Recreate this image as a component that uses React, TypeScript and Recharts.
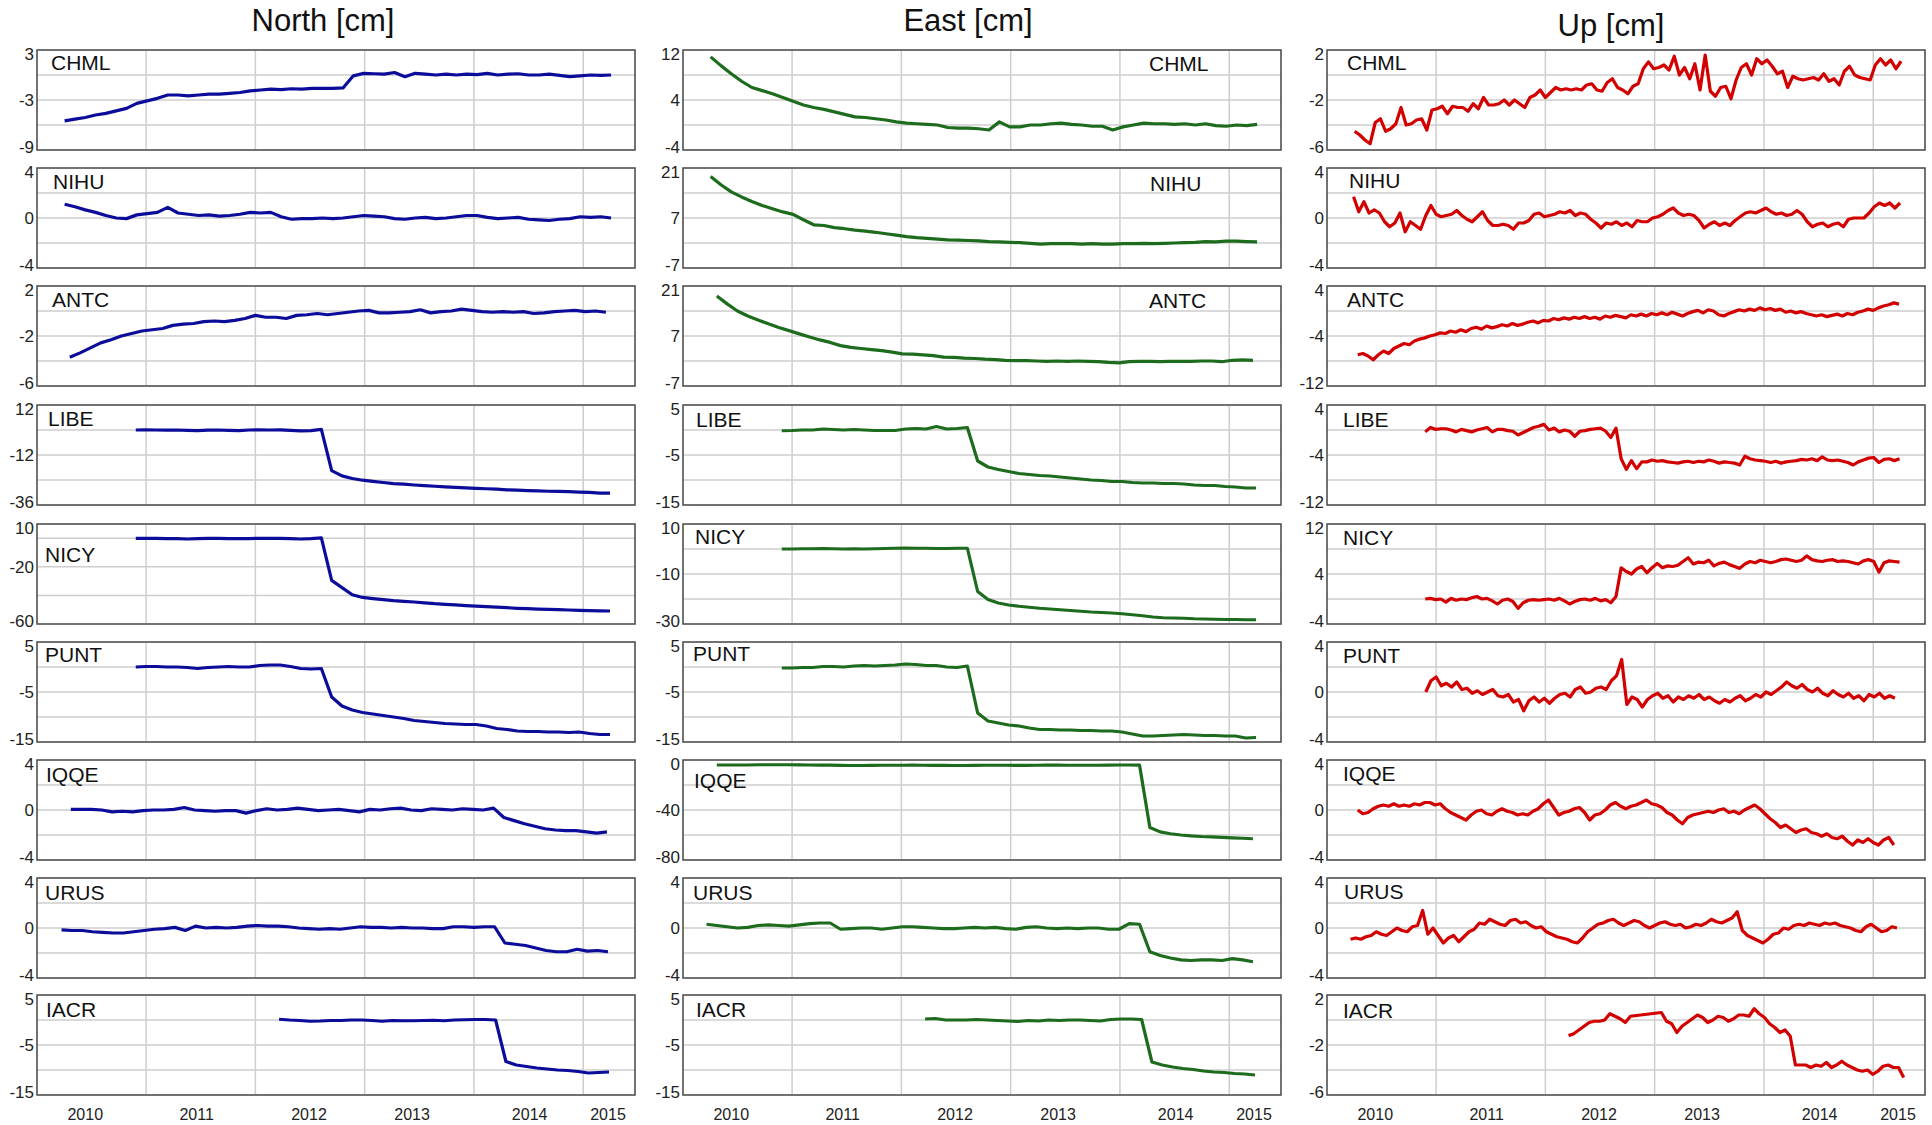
import React from 'react';
import { LineChart, Line, XAxis, YAxis, CartesianGrid, ReferenceArea } from 'recharts';

// ---------- categories / labels ----------
const STATIONS = ['CHML', 'NIHU', 'ANTC', 'LIBE', 'NICY', 'PUNT', 'IQQE', 'URUS', 'IACR'];
const COMPONENTS = ['North [cm]', 'East [cm]', 'Up [cm]'];
const X_DOMAIN: [number, number] = [2009.462, 2015.262];
const GRID_YEARS = [2010.52, 2011.58, 2012.64, 2013.7, 2014.76];
const YEAR_LABELS = ['2010', '2011', '2012', '2013', '2014', '2015'];
const YEAR_AT = [2009.93, 2011.01, 2012.1, 2013.1, 2014.24, 2015.0];

// ---------- North series (step 0.1 yr) ----------
const N_CHML = [-5.5,-5.3,-5.1,-4.8,-4.6,-4.3,-4.0,-3.4,-3.1,-2.8,-2.4,-2.4,-2.5,-2.4,-2.3,-2.3,-2.2,-2.1,-1.9,-1.8,-1.7,-1.75,-1.65,-1.7,-1.6,-1.6,-1.6,-1.55,-0.1,0.2,0.15,0.1,0.3,-0.2,0.2,0.1,0.0,0.1,0.0,0.1,0.05,0.2,0.0,0.1,0.15,0.0,0.0,0.1,-0.05,-0.2,-0.1,0.0,-0.05,0.0];
const N_NIHU = [1.1,0.9,0.65,0.45,0.2,0.0,-0.05,0.25,0.35,0.45,0.85,0.4,0.3,0.2,0.25,0.15,0.2,0.3,0.45,0.4,0.45,0.1,-0.1,-0.05,-0.05,0.0,-0.05,0.0,0.1,0.2,0.15,0.1,-0.05,-0.1,0.0,0.05,-0.05,0.0,0.1,0.2,0.2,0.05,-0.05,0.0,0.05,-0.1,-0.15,-0.2,-0.1,-0.05,0.1,0.05,0.1,0.0];
const N_ANTC = [-3.7,-3.35,-2.95,-2.55,-2.3,-2.0,-1.8,-1.6,-1.5,-1.4,-1.15,-1.05,-1.0,-0.85,-0.8,-0.85,-0.75,-0.6,-0.35,-0.5,-0.5,-0.6,-0.35,-0.3,-0.2,-0.3,-0.2,-0.1,0.0,0.05,-0.15,-0.15,-0.1,-0.05,0.1,-0.15,-0.05,0.0,0.15,0.05,-0.05,-0.1,-0.05,-0.1,-0.05,-0.2,-0.15,-0.05,0.0,0.05,-0.05,0.0,-0.1];
const N_LIBE = [0,0.1,0,-0.1,0,-0.2,-0.3,-0.1,0,-0.2,-0.3,0,0.1,0,0.1,-0.2,-0.4,-0.3,0.3,-19.5,-22,-23.3,-24.1,-24.7,-25.2,-25.7,-26.0,-26.4,-26.7,-27.0,-27.3,-27.5,-27.8,-28.0,-28.2,-28.4,-28.7,-28.9,-29.1,-29.2,-29.4,-29.5,-29.6,-29.8,-29.9,-30.3,-30.3];
const N_NICY = [0,0,0,-0.2,-0.3,-0.5,-0.3,0,0,-0.2,-0.3,-0.2,0,0,0,-0.3,-0.5,-0.2,0.3,-29.5,-34.5,-39.5,-41.4,-42.2,-42.9,-43.6,-44.1,-44.6,-45.2,-45.8,-46.2,-46.6,-47.1,-47.5,-47.9,-48.2,-48.6,-49.0,-49.3,-49.6,-49.8,-50.0,-50.2,-50.4,-50.6,-50.8,-50.9];
const N_PUNT = [0.0,0.1,0.1,0.0,0.0,-0.1,-0.3,-0.1,0.0,0.1,0.0,0.0,0.3,0.4,0.4,0.1,-0.3,-0.4,-0.3,-6.0,-7.8,-8.6,-9.1,-9.4,-9.7,-10.0,-10.3,-10.7,-10.9,-11.1,-11.3,-11.4,-11.5,-11.5,-11.8,-12.3,-12.5,-12.8,-12.9,-12.9,-13.0,-13.0,-13.1,-13.0,-13.3,-13.5,-13.5];
const N_IQQE = [0.05,0.05,0.05,0.0,-0.15,-0.1,-0.15,-0.05,0.0,0.0,0.05,0.2,0.0,-0.05,-0.1,-0.05,-0.05,-0.25,-0.05,0.1,0.0,0.05,0.15,0.05,-0.05,0.0,0.05,-0.05,-0.15,0.05,0.0,0.1,0.15,0.0,-0.05,0.1,0.05,0.0,0.1,0.05,0.0,0.15,-0.6,-0.85,-1.1,-1.3,-1.5,-1.6,-1.65,-1.65,-1.75,-1.85,-1.75];
const N_URUS = [-0.15,-0.2,-0.2,-0.3,-0.35,-0.4,-0.4,-0.3,-0.2,-0.1,-0.05,0.05,-0.2,0.15,0.0,0.05,0.0,0.05,0.15,0.2,0.15,0.15,0.1,0.0,-0.05,-0.1,-0.05,-0.1,0.0,0.1,0.05,0.05,0.0,0.05,0.0,0.0,-0.05,-0.05,0.1,0.1,0.05,0.1,0.1,-1.2,-1.3,-1.4,-1.6,-1.8,-1.9,-1.9,-1.7,-1.85,-1.8,-1.9];
const N_IACR = [0.15,0.0,-0.1,-0.25,-0.2,-0.1,-0.1,0.0,0.0,-0.1,-0.25,-0.1,-0.15,-0.15,-0.1,-0.05,-0.15,0.0,0.05,0.1,0.1,0.0,-8.3,-9.0,-9.3,-9.6,-9.8,-10.0,-10.1,-10.3,-10.6,-10.5,-10.4];

// ---------- East series (step 0.1 yr) ----------
const E_CHML = [10.9,9.5,8.2,7.0,6.0,5.5,5.0,4.4,3.8,3.2,2.8,2.5,2.1,1.7,1.3,1.2,1.0,0.8,0.5,0.3,0.2,0.1,0.0,-0.4,-0.5,-0.5,-0.6,-0.8,0.5,-0.3,-0.3,0.0,0.0,0.2,0.3,0.1,0.0,-0.2,-0.2,-0.8,-0.3,0.0,0.3,0.2,0.2,0.1,0.2,0.0,0.2,-0.1,-0.2,0.0,-0.1,0.1];
const E_NIHU = [18.6,16.3,14.3,12.9,11.6,10.5,9.6,8.7,8.0,6.5,5.1,4.9,4.3,4.0,3.6,3.3,3.0,2.6,2.2,1.8,1.5,1.3,1.1,0.9,0.8,0.7,0.6,0.4,0.3,0.2,0.1,-0.1,-0.3,-0.2,-0.2,-0.2,-0.3,-0.2,-0.3,-0.3,-0.2,-0.2,-0.1,-0.2,-0.1,0.0,0.1,0.2,0.4,0.3,0.5,0.5,0.4,0.3];
const E_ANTC = [18.2,16.0,14.0,12.6,11.5,10.4,9.4,8.5,7.6,6.7,5.9,5.2,4.3,3.8,3.5,3.2,2.9,2.5,2.0,1.9,1.7,1.5,1.1,1.0,0.8,0.7,0.5,0.4,0.2,0.1,0.1,0.0,-0.1,0.0,-0.1,0.0,-0.1,-0.2,-0.4,-0.5,-0.2,-0.1,-0.1,-0.2,-0.1,-0.1,-0.1,0.0,0.0,-0.2,0.2,0.3,0.2];
const E_LIBE = [-0.15,-0.1,0.0,0.0,0.2,0.1,0.0,0.1,0.0,-0.1,-0.1,-0.1,0.2,0.3,0.2,0.7,0.2,0.3,0.5,-6.2,-7.4,-7.9,-8.3,-8.7,-8.9,-9.1,-9.2,-9.4,-9.6,-9.8,-10.0,-10.1,-10.3,-10.3,-10.5,-10.6,-10.6,-10.7,-10.7,-10.8,-11.0,-11.1,-11.1,-11.3,-11.4,-11.6,-11.6];
const E_NICY = [0.0,0.0,0.1,0.1,0.2,0.1,0.0,0.1,0.0,0.1,0.2,0.3,0.4,0.3,0.3,0.2,0.2,0.3,0.3,-17.0,-20.2,-21.6,-22.4,-22.9,-23.3,-23.7,-24.0,-24.3,-24.6,-24.9,-25.2,-25.4,-25.6,-25.9,-26.3,-26.7,-27.2,-27.5,-27.6,-27.7,-27.9,-28.0,-28.1,-28.2,-28.2,-28.3,-28.3];
const E_PUNT = [-0.2,-0.2,-0.1,-0.1,0.1,0.1,0.0,0.2,0.3,0.2,0.3,0.4,0.6,0.5,0.3,0.3,0.0,-0.1,0.2,-9.2,-10.8,-11.2,-11.6,-11.8,-12.2,-12.5,-12.5,-12.6,-12.6,-12.7,-12.7,-12.8,-12.8,-13.0,-13.4,-13.8,-13.8,-13.7,-13.6,-13.5,-13.6,-13.7,-13.7,-13.8,-13.8,-14.2,-14.1];
const E_IQQE = [-4.0,-4.0,-4.0,-4.0,-3.8,-3.8,-3.8,-3.8,-3.9,-4.0,-4.1,-4.1,-4.3,-4.4,-4.4,-4.3,-4.2,-4.2,-4.2,-4.1,-4.2,-4.3,-4.3,-4.4,-4.4,-4.3,-4.2,-4.2,-4.2,-4.3,-4.3,-4.2,-4.1,-4.1,-4.2,-4.2,-4.2,-4.2,-4.1,-4.0,-4.0,-4.1,-54.0,-57.5,-59.0,-60.0,-60.7,-61.2,-61.5,-61.9,-62.3,-62.6,-63.0];
const E_URUS = [0.3,0.2,0.1,0.0,0.05,0.2,0.25,0.2,0.15,0.25,0.35,0.4,0.4,-0.1,-0.05,0.0,0.0,-0.1,0.0,0.1,0.1,0.05,0.0,-0.05,-0.05,0.0,0.05,0.0,0.05,-0.05,-0.1,0.05,0.1,0.0,-0.05,0.0,-0.05,0.0,0.0,-0.1,-0.1,0.35,0.3,-1.9,-2.2,-2.4,-2.55,-2.6,-2.55,-2.55,-2.6,-2.45,-2.55,-2.7];
const E_IACR = [0.2,0.3,0.0,0.0,0.0,0.1,0.0,-0.1,-0.2,-0.3,-0.1,-0.2,0.0,-0.1,0.0,0.0,-0.1,-0.2,0.1,0.2,0.2,0.1,-8.4,-9.0,-9.4,-9.7,-9.9,-10.2,-10.4,-10.5,-10.7,-10.8,-11.0];

// ---------- Up series (step 0.05 yr) ----------
const U_CHML = [-4.5,-4.8,-5.2,-5.5,-3.8,-3.5,-4.5,-4.3,-3.9,-2.6,-4.0,-3.9,-3.6,-3.5,-4.4,-2.8,-2.7,-2.5,-3.1,-2.5,-2.6,-2.6,-2.9,-2.3,-2.7,-1.8,-2.4,-2.4,-2.3,-2.0,-2.4,-2.0,-2.3,-2.6,-1.8,-1.6,-1.2,-1.8,-1.4,-1.0,-1.2,-1.1,-1.2,-1.1,-1.2,-0.8,-0.7,-1.2,-1.3,-0.6,-0.3,-1.0,-1.2,-1.5,-0.9,-0.7,0.5,1.05,0.5,0.6,0.8,0.4,1.5,0.0,0.6,-0.3,0.9,-1.2,1.6,-1.3,-1.7,-1.0,-0.9,-1.9,-0.4,0.6,0.9,0.0,1.3,0.9,1.2,0.7,0.1,0.3,-1.0,-0.1,-0.3,-0.4,-0.3,-0.2,-0.4,0.1,-0.5,-0.3,-0.8,0.3,0.7,0.0,-0.2,-0.3,-0.4,0.8,1.3,0.8,1.2,0.5,1.1];
const U_NIHU = [1.7,0.5,1.3,0.4,0.65,0.4,-0.3,-0.7,-0.4,0.4,-1.1,-0.3,-0.6,-0.9,0.2,1.0,0.3,0.1,0.2,0.3,0.6,0.2,-0.1,-0.3,0.1,0.5,-0.2,-0.6,-0.6,-0.5,-0.6,-0.9,-0.4,-0.4,-0.2,0.3,0.4,0.1,0.2,0.3,0.5,0.4,0.6,0.2,0.4,0.3,-0.1,-0.4,-0.8,-0.4,-0.5,-0.3,-0.6,-0.4,-0.7,-0.2,-0.3,-0.3,0.0,0.1,0.3,0.6,0.8,0.4,0.2,0.3,0.2,-0.2,-0.8,-0.5,-0.3,-0.6,-0.4,-0.6,-0.2,0.1,0.4,0.5,0.4,0.6,0.8,0.5,0.3,0.4,0.2,0.3,0.6,0.3,-0.3,-0.7,-0.5,-0.4,-0.7,-0.5,-0.4,-0.7,-0.1,0.0,0.0,0.0,0.4,0.9,1.2,1.0,1.2,0.8,1.2];
const U_ANTC = [-7.0,-6.8,-7.2,-7.8,-7.0,-6.4,-6.8,-6.0,-5.6,-5.2,-5.4,-4.8,-4.5,-4.3,-4.0,-3.8,-3.5,-3.6,-3.2,-3.4,-3.0,-3.3,-2.8,-2.6,-2.9,-2.4,-2.7,-2.5,-2.2,-2.4,-2.0,-2.3,-2.1,-1.8,-1.6,-1.9,-1.5,-1.6,-1.2,-1.4,-1.1,-1.3,-1.0,-1.2,-0.9,-1.2,-1.0,-1.3,-0.8,-1.0,-0.7,-0.9,-1.1,-0.6,-0.8,-0.5,-0.8,-0.4,-0.6,-0.3,-0.6,-0.2,-0.5,-0.8,-0.4,-0.1,0.1,-0.3,0.2,0.0,-0.6,-0.8,-0.4,-0.1,0.2,0.0,0.3,0.1,0.5,0.2,0.4,0.1,0.3,-0.2,0.0,-0.3,-0.1,-0.4,-0.6,-0.8,-0.6,-0.9,-0.7,-0.5,-0.8,-0.4,-0.6,-0.2,0.0,0.3,0.1,0.5,0.8,1.0,1.3,1.1];
const U_LIBE = [-0.3,0.4,0.1,0.2,0.2,0.0,-0.3,0.1,-0.1,-0.3,0.0,0.2,0.4,-0.3,0.1,0.1,-0.1,-0.2,-0.8,-0.4,0.0,0.4,0.6,0.9,0.0,0.3,-0.3,0.0,-0.2,-1.0,-0.2,-0.1,0.1,0.2,0.3,-0.2,-1.2,0.3,-4.6,-6.3,-4.9,-6.2,-5.1,-5.1,-4.8,-5.0,-4.9,-5.1,-5.2,-5.3,-5.1,-5.0,-5.2,-5.0,-5.1,-4.8,-5.0,-5.3,-5.1,-5.2,-5.3,-5.6,-4.2,-4.6,-4.8,-4.9,-5.0,-5.2,-5.0,-5.3,-5.1,-5.0,-4.9,-4.7,-4.8,-4.6,-4.9,-4.3,-4.8,-4.9,-4.8,-5.0,-5.2,-5.6,-5.1,-4.8,-4.5,-4.4,-5.2,-4.7,-4.6,-4.9,-4.6];
const U_NICY = [0.0,0.1,-0.1,0.0,-0.5,0.1,-0.2,0.0,-0.1,0.2,0.4,0.0,0.1,-0.3,-0.8,-0.2,0.0,-0.4,-1.5,-0.6,-0.2,-0.1,-0.2,-0.1,0.0,-0.2,0.1,-0.3,-0.8,-0.4,-0.1,0.0,-0.2,0.1,-0.3,-0.1,-0.6,0.4,5.0,4.4,4.0,4.8,5.2,4.2,5.0,5.7,5.0,5.3,5.2,5.4,6.0,6.6,5.6,5.9,5.8,6.2,5.3,5.7,5.9,5.5,5.2,4.9,5.6,6.0,5.8,6.2,6.0,5.8,6.0,6.3,6.4,6.2,6.0,6.2,6.9,6.3,6.1,6.0,6.2,6.3,6.0,6.1,6.0,5.8,5.6,6.1,6.3,6.0,4.3,5.8,6.1,6.0,5.9];
const U_PUNT = [0.0,0.9,1.2,0.5,0.7,0.4,0.8,0.2,0.3,-0.1,0.1,-0.2,0.0,0.2,-0.3,-0.4,-0.2,-0.8,-0.6,-1.5,-0.7,-0.4,-0.8,-0.5,-0.9,-0.5,-0.2,-0.1,-0.4,0.2,0.4,-0.1,0.0,0.3,0.4,0.2,0.9,1.3,2.6,-1.0,-0.4,-0.6,-1.2,-0.6,-0.3,-0.1,-0.5,-0.3,-0.8,-0.4,-0.6,-0.3,-0.5,-0.2,-0.6,-0.4,-0.7,-0.9,-0.6,-0.8,-0.5,-0.3,-0.7,-0.5,-0.2,-0.4,0.0,-0.2,0.1,0.4,0.8,0.5,0.3,0.6,0.2,0.0,0.3,-0.1,-0.3,0.1,-0.2,-0.4,-0.1,-0.5,-0.3,-0.7,-0.2,-0.4,-0.1,-0.5,-0.3,-0.5];
const U_IQQE = [0.0,-0.3,-0.2,0.1,0.3,0.4,0.3,0.5,0.3,0.4,0.3,0.5,0.4,0.6,0.6,0.4,0.5,0.1,-0.2,-0.4,-0.6,-0.8,-0.4,-0.1,0.0,-0.3,-0.4,-0.1,0.1,-0.1,-0.2,-0.4,-0.3,-0.4,-0.1,0.1,0.5,0.8,0.2,-0.4,-0.2,-0.1,0.1,0.2,-0.2,-0.8,-0.4,-0.3,0.0,0.4,0.6,0.3,0.1,0.3,0.4,0.6,0.8,0.5,0.4,0.2,-0.2,-0.4,-0.8,-1.1,-0.6,-0.4,-0.3,-0.2,-0.1,-0.2,0.0,0.1,-0.2,-0.1,-0.3,0.0,0.2,0.4,0.1,-0.3,-0.7,-1.0,-1.4,-1.2,-1.5,-1.8,-1.6,-1.5,-1.8,-1.9,-2.1,-1.9,-2.2,-2.3,-2.1,-2.5,-2.8,-2.4,-2.6,-2.3,-2.6,-2.8,-2.4,-2.2,-2.8];
const U_URUS = [-0.9,-0.8,-0.9,-0.7,-0.6,-0.3,-0.5,-0.6,-0.3,0.0,-0.2,-0.3,0.1,0.2,1.4,-0.5,0.0,-0.6,-1.2,-0.8,-0.6,-1.1,-0.7,-0.3,-0.1,0.4,0.3,0.7,0.5,0.3,0.2,0.6,0.7,0.4,0.5,0.2,0.0,0.1,-0.3,-0.5,-0.7,-0.8,-0.9,-1.1,-1.2,-0.8,-0.3,0.0,0.3,0.4,0.6,0.7,0.4,0.2,0.4,0.6,0.5,0.2,0.0,0.2,0.4,0.5,0.3,0.2,0.3,0.0,0.1,0.3,0.2,0.4,0.7,0.5,0.4,0.6,0.8,1.3,-0.2,-0.6,-0.8,-1.0,-1.2,-0.9,-0.5,-0.4,0.0,-0.1,0.2,0.3,0.2,0.4,0.3,0.2,0.4,0.3,0.4,0.2,0.1,0.0,-0.2,-0.3,0.1,0.3,0.0,-0.3,-0.2,0.1,0.0];
const U_IACR = [-1.25,-1.1,-0.8,-0.5,-0.2,-0.1,-0.1,0.0,0.5,0.3,0.1,-0.2,0.3,null,null,null,null,null,0.6,-0.1,-0.3,-1.0,-0.5,-0.2,0.1,0.4,0.2,-0.2,0.0,0.3,0.2,-0.1,0.1,0.4,0.4,0.3,0.9,0.5,0.2,-0.3,-0.6,-1.0,-0.8,-1.3,-3.6,-3.6,-3.6,-3.8,-3.6,-3.7,-3.4,-3.8,-3.6,-3.3,-3.6,-3.8,-4.0,-4.1,-4.0,-4.35,-4.1,-3.7,-3.6,-3.8,-3.8,-4.6];

const NORTH = [N_CHML, N_NIHU, N_ANTC, N_LIBE, N_NICY, N_PUNT, N_IQQE, N_URUS, N_IACR];
const EAST = [E_CHML, E_NIHU, E_ANTC, E_LIBE, E_NICY, E_PUNT, E_IQQE, E_URUS, E_IACR];
const UP = [U_CHML, U_NIHU, U_ANTC, U_LIBE, U_NICY, U_PUNT, U_IQQE, U_URUS, U_IACR];

const NORTH_START = [2009.73, 2009.73, 2009.78, 2010.42, 2010.42, 2010.42, 2009.79, 2009.70, 2011.81];
const EAST_START = [2009.73, 2009.73, 2009.79, 2010.42, 2010.42, 2010.42, 2009.79, 2009.69, 2011.81];
const UP_START = [2009.73, 2009.72, 2009.76, 2010.415, 2010.415, 2010.42, 2009.76, 2009.69, 2011.805];
const STEPS = [0.1, 0.1, 0.05];

// ---------- y ticks (grid) and labelled ticks ----------
const N_TICKS = [[3,0,-3,-6,-9],[4,2,0,-2,-4],[2,0,-2,-4,-6],[12,0,-12,-24,-36],[10,0,-20,-40,-60],[5,0,-5,-10,-15],[4,2,0,-2,-4],[4,2,0,-2,-4],[5,0,-5,-10,-15]];
const N_LABELS = [[3,-3,-9],[4,0,-4],[2,-2,-6],[12,-12,-36],[10,-20,-60],[5,-5,-15],[4,0,-4],[4,0,-4],[5,-5,-15]];
const E_TICKS = [[12,8,4,0,-4],[21,14,7,0,-7],[21,14,7,0,-7],[5,0,-5,-10,-15],[10,0,-10,-20,-30],[5,0,-5,-10,-15],[0,-20,-40,-60,-80],[4,2,0,-2,-4],[5,0,-5,-10,-15]];
const E_LABELS = [[12,4,-4],[21,7,-7],[21,7,-7],[5,-5,-15],[10,-10,-30],[5,-5,-15],[0,-40,-80],[4,0,-4],[5,-5,-15]];
const U_TICKS = [[2,0,-2,-4,-6],[4,2,0,-2,-4],[4,0,-4,-8,-12],[4,0,-4,-8,-12],[12,8,4,0,-4],[4,2,0,-2,-4],[4,2,0,-2,-4],[4,2,0,-2,-4],[2,0,-2,-4,-6]];
const U_LABELS = [[2,-2,-6],[4,0,-4],[4,-4,-12],[4,-4,-12],[12,4,-4],[4,0,-4],[4,0,-4],[4,0,-4],[2,-2,-6]];

// ---------- layout / style ----------
const FONT = '"Liberation Sans", Arial, Helvetica, sans-serif';
const COLORS = ['#0c0c9a', '#1d6b1d', '#d20000'];
const PANEL_W = 598;
const PANEL_H = 100;
const COL_LEFT = [37, 683, 1327];
const ROW_TOP = [50, 168, 286, 405, 524, 642, 760, 878, 995];
const AXIS_W = 50;
const PAD = 8;
const XLAB_H = 32;
const TITLE_CX = [323, 968, 1611];
const TITLE_TOP = [5, 5, 10];
const LABEL_DX = [[14,16,15,11,8,8,9,8,9],[466,467,466,13,12,10,11,10,13],[20,22,20,16,16,16,16,17,16]];
const LABEL_CAP = [[5,6,6,6,23,5,7,7,7],[6,8,7,7,5,4,13,7,7],[5,5,6,7,6,6,6,6,8]];

type Row = { t: number; v: number | null };
const toRows = (vals: (number | null)[], start: number, step: number): Row[] =>
  vals.map((v, i) => ({ t: start + i * step, v }));

function YTick(props: any) {
  const { x, y, payload, labels, min, max } = props;
  const val = payload.value;
  if (!labels.includes(val)) return <g />;
  let dy = 6;
  if (val === max) dy += 4;
  if (val === min) dy -= 3;
  return (
    <text x={x} y={y + dy} textAnchor="end" fontSize={17} fill="#222" fontFamily={FONT}>
      {String(val)}
    </text>
  );
}

function YearTick(props: any) {
  const { x, y, payload } = props;
  const idx = YEAR_AT.indexOf(payload.value);
  return (
    <text x={x} y={y + 24.5} textAnchor="middle" fontSize={16} fill="#222" fontFamily={FONT}>
      {idx >= 0 ? YEAR_LABELS[idx] : ''}
    </text>
  );
}

const EmptyTick = () => <g />;

function Panel(p: { data: Row[]; color: string; ticks: number[]; labels: number[]; left: number; top: number; bottom: boolean }) {
  const min = Math.min(...p.ticks);
  const max = Math.max(...p.ticks);
  return (
    <div style={{ position: 'absolute', left: p.left - AXIS_W, top: p.top - PAD }}>
      <LineChart
        width={AXIS_W + PANEL_W + PAD}
        height={PANEL_H + 2 * PAD + (p.bottom ? XLAB_H : 0)}
        data={p.data}
        margin={{ top: PAD, right: PAD, bottom: PAD, left: 0 }}
      >
        <CartesianGrid stroke="#cecece" strokeWidth={1.5} verticalValues={GRID_YEARS} horizontalValues={p.ticks} />
        <XAxis dataKey="t" type="number" domain={X_DOMAIN} ticks={YEAR_AT} allowDataOverflow
          tickLine={false} axisLine={false} tickSize={0} tickMargin={0} interval={0}
          height={p.bottom ? XLAB_H : 0}
          tick={p.bottom ? <YearTick /> : <EmptyTick />} />
        <YAxis type="number" domain={[min, max]} ticks={p.ticks} allowDataOverflow width={AXIS_W}
          tickLine={false} axisLine={false} tickSize={0} tickMargin={3} interval={0}
          tick={(tp: any) => <YTick {...tp} labels={p.labels} min={min} max={max} />} />
        <Line type="linear" dataKey="v" stroke={p.color} strokeWidth={3.2} dot={false}
          isAnimationActive={false} connectNulls strokeLinejoin="round" />
        <ReferenceArea x1={X_DOMAIN[0]} x2={X_DOMAIN[1]} y1={min} y2={max} fill="none"
          stroke="#505050" strokeWidth={1.6} ifOverflow="visible" />
      </LineChart>
    </div>
  );
}

export default function App() {
  const columns = [
    { series: NORTH, starts: NORTH_START, ticks: N_TICKS, labels: N_LABELS },
    { series: EAST, starts: EAST_START, ticks: E_TICKS, labels: E_LABELS },
    { series: UP, starts: UP_START, ticks: U_TICKS, labels: U_LABELS },
  ];
  return (
    <div style={{ position: 'absolute', left: 0, top: 0, width: 1932, height: 1125, background: '#fff', fontFamily: FONT }}>
      {COMPONENTS.map((c, ci) => (
        <div key={c} style={{ position: 'absolute', left: TITLE_CX[ci] - 200, top: TITLE_TOP[ci], width: 400,
          textAlign: 'center', fontSize: 31, lineHeight: '31px', color: '#111' }}>{c}</div>
      ))}
      {columns.map((col, ci) =>
        STATIONS.map((st, ri) => (
          <React.Fragment key={`${ci}-${st}`}>
            <Panel
              data={toRows(col.series[ri], col.starts[ri], STEPS[ci])}
              color={COLORS[ci]}
              ticks={col.ticks[ri]}
              labels={col.labels[ri]}
              left={COL_LEFT[ci]}
              top={ROW_TOP[ri]}
              bottom={ri === STATIONS.length - 1}
            />
            <div style={{ position: 'absolute', left: COL_LEFT[ci] + LABEL_DX[ci][ri],
              top: ROW_TOP[ri] + LABEL_CAP[ci][ri] - 2.8, fontSize: 21, lineHeight: '21px', color: '#111' }}>{st}</div>
          </React.Fragment>
        ))
      )}
    </div>
  );
}
